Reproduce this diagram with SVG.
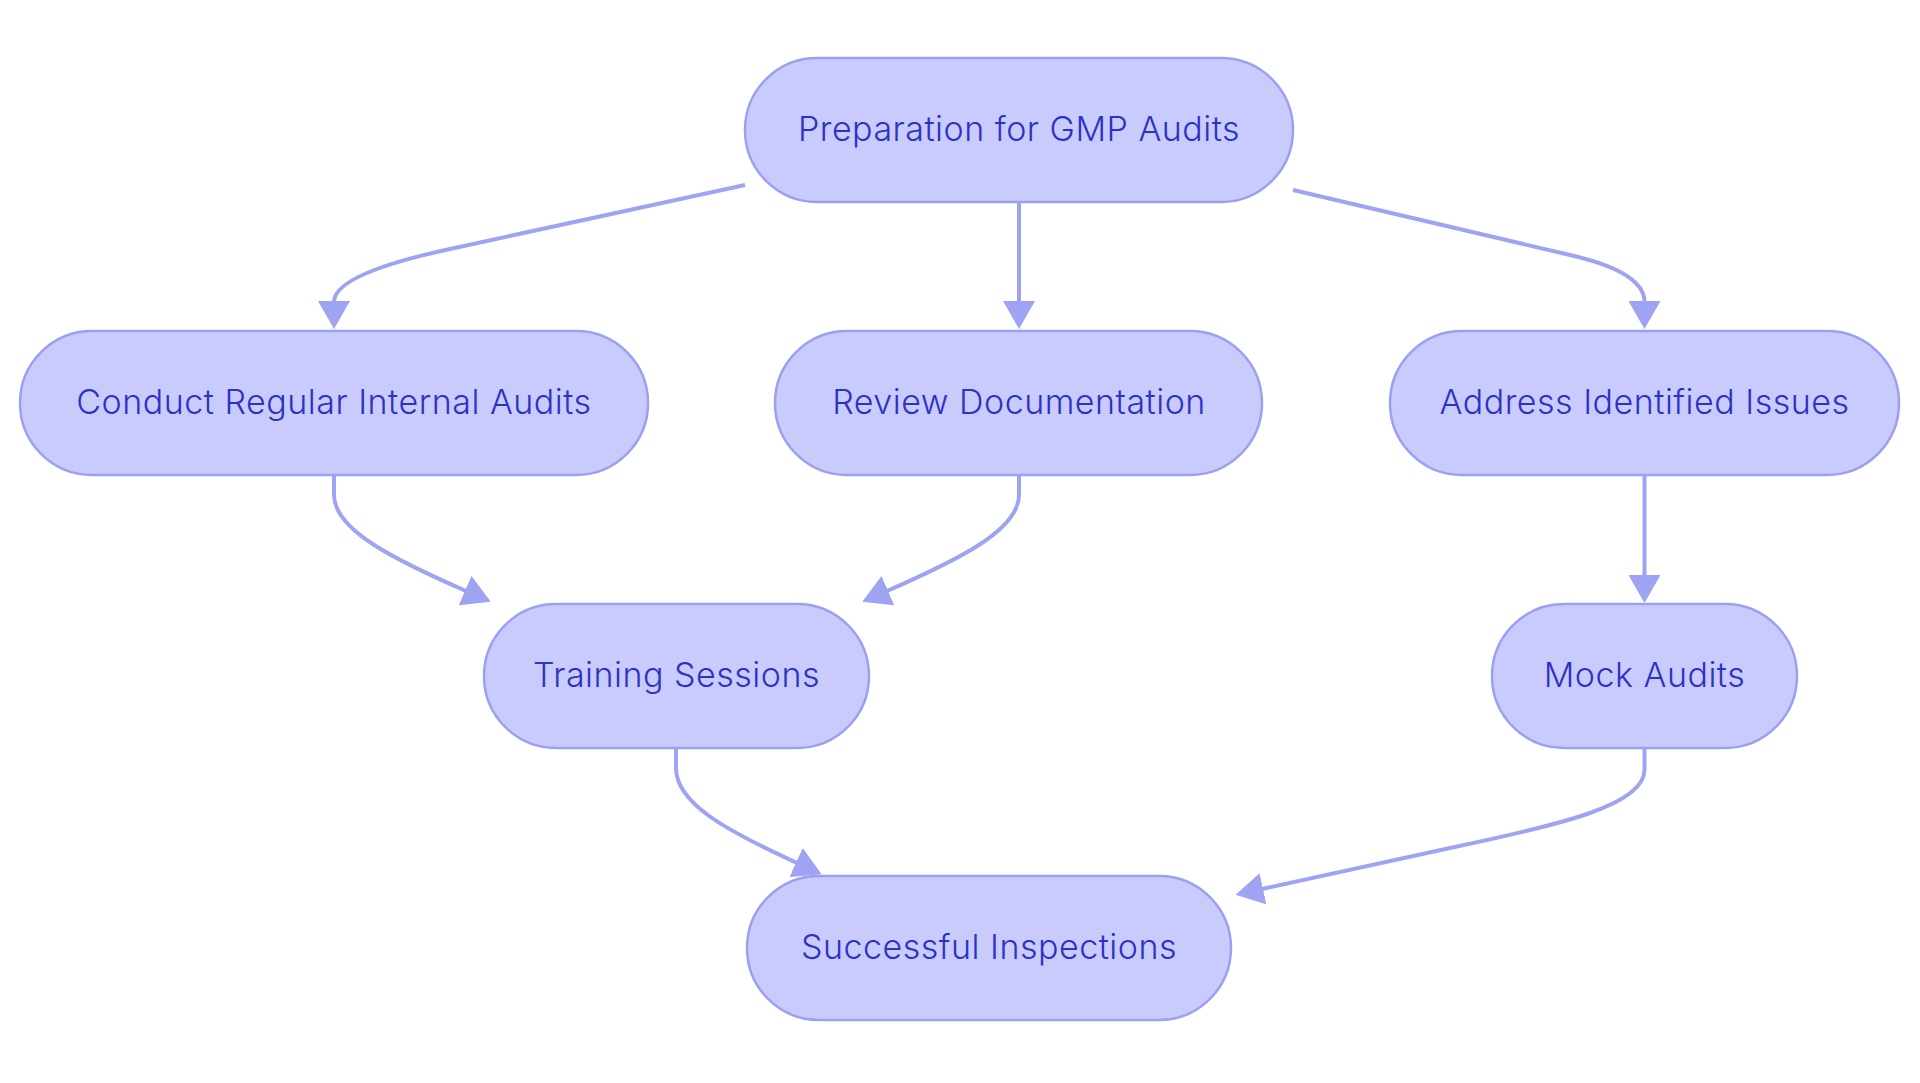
<svg xmlns="http://www.w3.org/2000/svg" width="1920" height="1083" viewBox="0 0 1920 1083">
<defs>
<style>
.node rect{fill:#C9CBFC;stroke:#9BA0F0;stroke-width:2.5}
.node text{font-family:Inter,"Noto Sans","Liberation Sans",sans-serif;font-size:34px;font-weight:300;letter-spacing:0.5px;fill:#2C32C5;text-anchor:middle}
.edge{fill:none;stroke:#9EA3F2;stroke-width:4;marker-end:url(#arrow)}
</style>
<marker id="arrow" viewBox="0 0 28 32" refX="1" refY="16" markerWidth="28" markerHeight="32" markerUnits="userSpaceOnUse" orient="auto">
<path d="M0,0 L28,16 L0,32 z" fill="#9EA3F2"/>
</marker>
</defs>
<rect width="1920" height="1083" fill="#FFFFFF"/>
<g id="connectors">
<path class="edge" d="M745,185 L450,249 Q334,274 334,302"/>
<path class="edge" d="M1019,202 L1019,302"/>
<path class="edge" d="M1293,190 L1570,255 Q1644.5,272 1644.5,302"/>
<path class="edge" d="M334,475 L334,495 C334,530 395,560 466,591"/>
<path class="edge" d="M1019,475 L1019,495 C1019,530 958,560 887,591"/>
<path class="edge" d="M1644.5,475 L1644.5,576"/>
<path class="edge" d="M676,748 L676,768 C676,803 725,830 797,863"/>
<path class="edge" d="M1644.5,748 L1644.5,770 C1644.5,805 1560,825 1450,848 L1262,889"/>
</g>
<g id="node-prep" class="node">
<rect x="745" y="58" width="548" height="144" rx="72" ry="72"/>
<text x="1019" y="141">Preparation for GMP Audits</text>
</g>
<g id="node-conduct" class="node">
<rect x="20" y="331" width="628" height="144" rx="72" ry="72"/>
<text x="334" y="414">Conduct Regular Internal Audits</text>
</g>
<g id="node-review" class="node">
<rect x="775" y="331" width="487" height="144" rx="72" ry="72"/>
<text x="1019" y="414">Review Documentation</text>
</g>
<g id="node-address" class="node">
<rect x="1390" y="331" width="509" height="144" rx="72" ry="72"/>
<text x="1644.5" y="414">Address Identified Issues</text>
</g>
<g id="node-training" class="node">
<rect x="484" y="604" width="385" height="144" rx="72" ry="72"/>
<text x="676.5" y="687">Training Sessions</text>
</g>
<g id="node-mock" class="node">
<rect x="1492" y="604" width="305" height="144" rx="72" ry="72"/>
<text x="1644.5" y="687">Mock Audits</text>
</g>
<g id="node-success" class="node">
<rect x="747" y="876" width="484" height="144" rx="72" ry="72"/>
<text x="989" y="959">Successful Inspections</text>
</g>
</svg>
